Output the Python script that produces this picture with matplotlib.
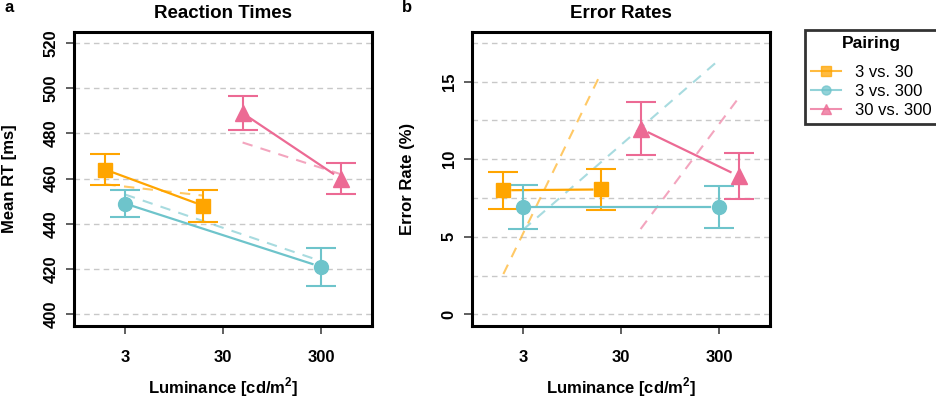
import matplotlib
matplotlib.use("Agg")
import matplotlib.pyplot as plt
import numpy as np
from matplotlib.lines import Line2D

plt.rcParams["font.family"] = ["Liberation Sans", "DejaVu Sans"]
plt.rcParams["mathtext.fontset"] = "custom"
plt.rcParams["mathtext.rm"] = "Liberation Sans:bold"
plt.rcParams["mathtext.bf"] = "Liberation Sans:bold"

# ---- data -------------------------------------------------------------
lum_labels = ["3", "30", "300"]
pairings = ["3 vs. 30", "3 vs. 300", "30 vs. 300"]
pair_idx = [[0, 1], [0, 2], [1, 2]]          # luminance level index per point

rt_mean = [[464, 448], [449, 421], [489, 460]]
rt_sem = [[7.0, 7.0], [6.0, 8.5], [7.5, 7.0]]
rt_pred = [[457.5, 452.5], [453.0, 423.5], [476.0, 462.0]]

er_mean = [[8.0, 8.05], [6.92, 6.92], [11.97, 8.92]]
er_sem = [[1.2, 1.32], [1.45, 1.33], [1.7, 1.5]]
er_pred = [[2.6, 15.6], [5.45, 16.4], [5.5, 13.95]]

# ---- style ------------------------------------------------------------
colors = ["#FFA500", "#6EC4CB", "#EC6A94"]
markers = ["s", "o", "^"]
msizes = [9.5, 10, 11.5]
offsets = [-0.2, 0.0, 0.2]
GAP_PX = 9


def shortened_line(ax, x, y, color):
    """Solid connector that stops short of the markers (R type='b' look)."""
    p = ax.transData.transform(np.column_stack([x, y]))
    d = p[1] - p[0]
    u = d / np.hypot(*d)
    p0 = p[0] + u * GAP_PX
    p1 = p[1] - u * GAP_PX
    q = ax.transData.inverted().transform(np.vstack([p0, p1]))
    ax.plot(q[:, 0], q[:, 1], color=color, lw=1.6, zorder=3)


def draw_panel(ax, means, sems, preds, ylim, grid, yticks, title, ylabel):
    ax.set_xlim(-0.52, 2.52)
    ax.set_ylim(*ylim)
    for g in grid:
        ax.axhline(g, color="#C8C8C8", lw=1.0, ls=(0, (4, 3)), zorder=0)
    for i in range(3):
        x = np.array(pair_idx[i], dtype=float) + offsets[i]
        ax.plot(x, preds[i], color=colors[i], lw=1.5, alpha=0.6,
                ls=(0, (5, 4)), zorder=2)
        ax.errorbar(x, means[i], yerr=sems[i], fmt="none", ecolor=colors[i],
                    elinewidth=1.5, capsize=11, capthick=1.5, zorder=3)
        shortened_line(ax, x, means[i], colors[i])
        ax.plot(x, means[i], ls="none", marker=markers[i], ms=msizes[i],
                color=colors[i], zorder=4)
    ax.set_xticks(range(3))
    ax.set_xticklabels(lum_labels)
    ax.set_yticks(yticks)
    ax.tick_params(axis="both", length=6, width=1.2, color="#444444",
                   labelsize=12, pad=5)
    ax.tick_params(axis="x", pad=11)
    ax.tick_params(axis="y", labelrotation=90)
    for lab in ax.get_xticklabels() + ax.get_yticklabels():
        lab.set_fontweight("bold")
    for lab in ax.get_yticklabels():
        lab.set_va("center")
    for s in ax.spines.values():
        s.set_linewidth(2.2)
    ax.set_title(title, fontsize=13.5, fontweight="bold", pad=10)
    ax.set_xlabel("Luminance [cd/m$^{2}$]", fontsize=12, fontweight="bold",
                  labelpad=8)
    ax.set_ylabel(ylabel, fontsize=12, fontweight="bold", labelpad=19)


fig = plt.figure(figsize=(9.37, 3.99), dpi=100)
ax_a = fig.add_axes([74 / 937, 1 - 326 / 399, 298 / 937, 294 / 399])
ax_b = fig.add_axes([472 / 937, 1 - 326 / 399, 298 / 937, 294 / 399])

draw_panel(ax_a, rt_mean, rt_sem, rt_pred, (394.8, 524.9),
           np.arange(400, 521, 20), np.arange(400, 521, 20),
           "Reaction Times", "Mean RT [ms]")
draw_panel(ax_b, er_mean, er_sem, er_pred, (-0.75, 18.2),
           np.arange(0, 17.6, 2.5), [0, 5, 10, 15],
           "Error Rates", "Error Rate (%)")

fig.text(5 / 937, 1 - 8 / 399, "a", fontsize=12, fontweight="bold",
         va="center", ha="left")
fig.text(402 / 937, 1 - 8 / 399, "b", fontsize=12, fontweight="bold",
         va="center", ha="left")

handles = [Line2D([0], [0], color=c, lw=1.5, marker=m, ms=6.5, alpha=0.75)
           for c, m in zip(colors, markers)]
leg = fig.legend(handles, pairings, title="Pairing", loc="upper right",
                 bbox_to_anchor=(1.0, 1 - 30 / 399), fontsize=12,
                 title_fontproperties={"weight": "bold", "size": 12.5},
                 frameon=True, fancybox=False, edgecolor="black",
                 handlelength=1.8, handletextpad=0.8, labelspacing=0.25,
                 borderpad=0.35, borderaxespad=0.0)
leg.get_frame().set_linewidth(2.0)
leg._legend_box.sep = 10

fig.savefig("out.png", dpi=100)
